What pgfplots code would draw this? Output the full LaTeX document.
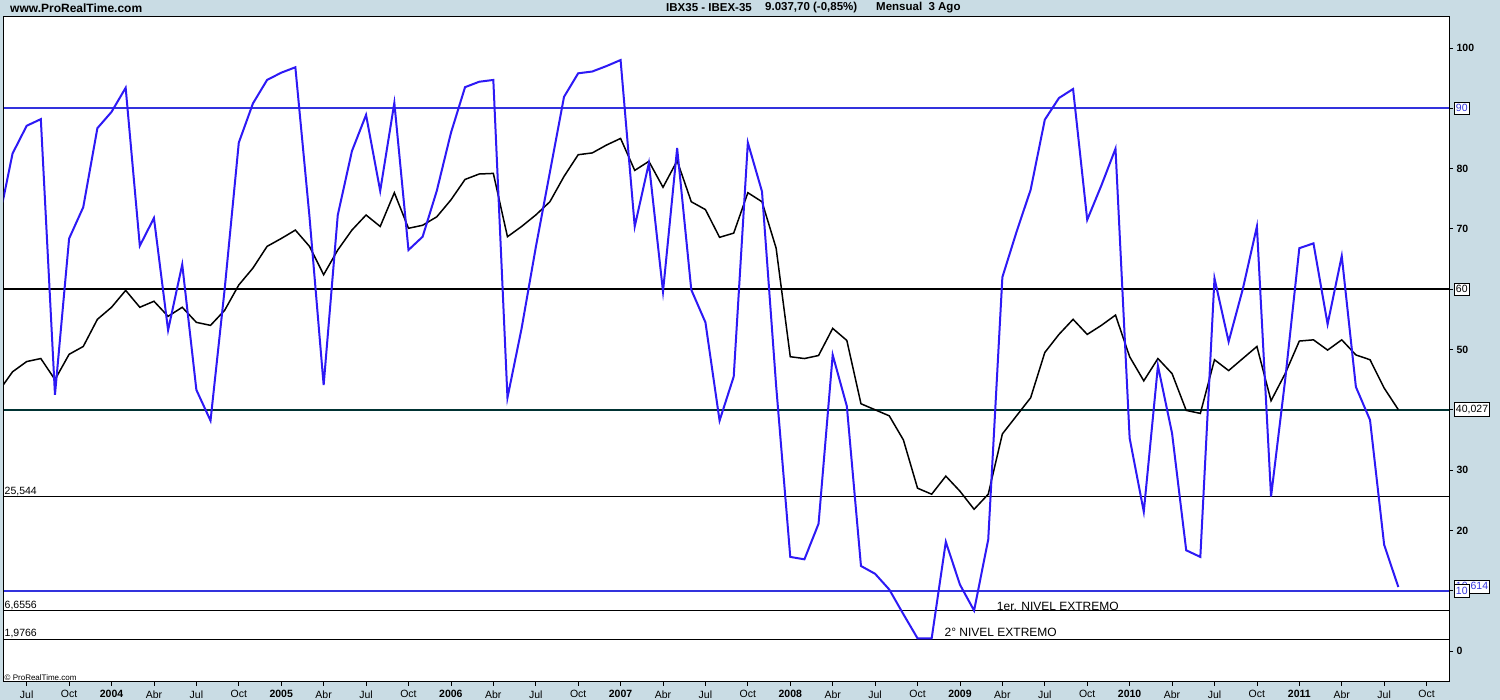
\documentclass[border=0pt]{standalone}
\usepackage{fontspec}
\setmainfont{Liberation Sans}
\usepackage{pgfplots}
\usepackage{pgfplotstable}
\pgfplotsset{compat=1.18}
\definecolor{bgc}{RGB}{201,220,228}
\definecolor{ser}{RGB}{45,25,245}
\definecolor{hl}{RGB}{51,51,221}
\definecolor{tealc}{RGB}{0,51,51}

\pgfplotstableread{
m v
-8 71
-7 82.5
-6 87.1
-5 88.2
-4 42.5
-3 68.4
-2 73.6
-1 86.7
0 89.4
1 93.4
2 67.2
3 71.8
4 53.2
5 64.1
6 43.3
7 38.2
8 60
9 84.3
10 90.8
11 94.7
12 95.9
13 96.8
14 72
15 44.1
16 72.3
17 82.9
18 88.9
19 76.3
20 90.9
21 66.5
22 68.7
23 76.3
24 85.9
25 93.5
26 94.4
27 94.7
28 42
29 53.5
30 66.9
31 79.4
32 91.9
33 95.8
34 96.1
35 97.0
36 98.0
37 70.4
38 80.9
39 59.6
40 83.4
41 59.9
42 54.5
43 38.2
44 45.5
45 84.3
46 76.2
47 44
48 15.6
49 15.2
50 21.1
51 49.1
52 40.6
53 14.1
54 12.8
55 10.2
56 6.1
57 2.1
58 2.1
59 18.1
60 11
61 6.7
62 18.5
63 62.0
64 69.5
65 76.5
66 88.1
67 91.7
68 93.2
69 71.5
70 77.2
71 83.3
72 35.3
73 23.1
74 47.3
75 36.1
76 16.7
77 15.6
78 61.8
79 51.3
80 60
81 70.4
82 25.6
83 45
84 66.8
85 67.6
86 54.2
87 65.5
88 43.8
89 38.3
90 17.6
91 10.614
}\bluedata

\pgfplotstableread{
m v
-8 43
-7 46.3
-6 48
-5 48.5
-4 45
-3 49.2
-2 50.5
-1 55
0 57
1 59.8
2 57
3 58
4 55.5
5 57
6 54.5
7 54
8 56.5
9 60.7
10 63.5
11 67.1
12 68.4
13 69.8
14 67.1
15 62.4
16 66.5
17 69.8
18 72.3
19 70.4
20 76.0
21 70.1
22 70.6
23 72.0
24 74.8
25 78.2
26 79.1
27 79.2
28 68.7
29 70.4
30 72.3
31 74.5
32 78.7
33 82.3
34 82.6
35 83.9
36 85.0
37 79.7
38 81.2
39 76.9
40 81.3
41 74.5
42 73.2
43 68.6
44 69.3
45 76.0
46 74.5
47 66.8
48 48.8
49 48.5
50 49
51 53.5
52 51.5
53 41
54 40
55 39
56 35
57 27
58 26
59 29
60 26.5
61 23.5
62 26
63 36
64 39
65 42
66 49.5
67 52.5
68 55
69 52.5
70 54
71 55.7
72 48.8
73 44.8
74 48.5
75 46.0
76 39.9
77 39.4
78 48.3
79 46.5
80 48.5
81 50.5
82 41.5
83 46.0
84 51.4
85 51.6
86 49.9
87 51.6
88 49.1
89 48.3
90 43.6
91 40.027
}\blackdata

\begin{document}
\begin{tikzpicture}[x=1pt,y=1pt]
\fill[bgc] (0,0) rectangle (1500,700);
\begin{axis}[
  at={(3.5pt,18pt)}, anchor=south west,
  width=1445.5pt, height=665pt, scale only axis,
  xmin=-7.64, xmax=94.59, ymin=-5.14, ymax=105.14,
  axis background/.style={fill=white},
  axis line style={black, line width=1pt},
  xtick={-6,-3,...,93},
  xticklabels={Jul,Oct,\textbf{2004},Abr,Jul,Oct,\textbf{2005},Abr,Jul,Oct,\textbf{2006},Abr,Jul,Oct,\textbf{2007},Abr,Jul,Oct,\textbf{2008},Abr,Jul,Oct,\textbf{2009},Abr,Jul,Oct,\textbf{2010},Abr,Jul,Oct,\textbf{2011},Abr,Jul,Oct},
  xtick pos=bottom,
  ytick={0,20,30,50,70,80,100},
  yticklabels={0,20,30,50,70,80,100},
  extra y ticks={10,40.027,60,90},
  extra y tick labels={},
  ytick pos=right, yticklabel pos=right,
  tick align=outside, major tick length=4pt,
  tick style={black, line width=0.8pt},
  xticklabel style={font=\fontsize{10.5}{12}\selectfont, yshift=-1pt},
  yticklabel style={font=\bfseries\fontsize{10.5}{12}\selectfont},
  /pgf/number format/assume math mode=true,
]
\addplot[hl, line width=2pt] coordinates {(-7.64,90) (94.59,90)};
\addplot[black, line width=2pt] coordinates {(-7.64,60) (94.59,60)};
\addplot[tealc, line width=2pt] coordinates {(-7.64,40.027) (94.59,40.027)};
\addplot[black, line width=1pt] coordinates {(-7.64,25.544) (94.59,25.544)};
\addplot[hl, line width=2pt] coordinates {(-7.64,10) (94.59,10)};
\addplot[black, line width=1pt] coordinates {(-7.64,6.6556) (94.59,6.6556)};
\addplot[black, line width=1pt] coordinates {(-7.64,1.9766) (94.59,1.9766)};
\addplot[black, line width=1.5pt] table[x=m,y=v] {\blackdata};
\addplot[ser, line width=2pt] table[x=m,y=v] {\bluedata};
\coordinate (y90) at (axis cs:94.59,90);
\coordinate (y60) at (axis cs:94.59,60);
\coordinate (y40) at (axis cs:94.59,40.027);
\coordinate (y10) at (axis cs:94.59,10);
\coordinate (y10b) at (axis cs:94.59,10.614);
\node[anchor=south west, inner sep=1pt, font=\fontsize{10.5}{12}\selectfont] at (axis cs:-7.64,25.544) {25,544};
\node[anchor=south west, inner sep=1pt, font=\fontsize{10.5}{12}\selectfont] at (axis cs:-7.64,6.6556) {6,6556};
\node[anchor=south west, inner sep=1pt, font=\fontsize{10.5}{12}\selectfont] at (axis cs:-7.64,1.9766) {1,9766};
\node[anchor=west, inner sep=0pt, font=\fontsize{12}{14}\selectfont] at (axis cs:62.6,7.4) {1er. NIVEL EXTREMO};
\node[anchor=west, inner sep=0pt, font=\fontsize{12}{14}\selectfont] at (axis cs:58.9,3.1) {2° NIVEL EXTREMO};
\node[anchor=south west, inner sep=1pt, font=\fontsize{8}{9}\selectfont] at (rel axis cs:0,0) {© ProRealTime.com};
\end{axis}
\begin{scope}[every node/.style={draw=black, fill=white, line width=0.8pt, anchor=west, inner xsep=1.5pt, inner ysep=2.5pt, font=\fontsize{10.5}{12}\selectfont}]
\node[text=hl] at ([xshift=5pt]y90) {90};
\node[text=black] at ([xshift=5pt]y60) {60};
\node[text=black] at ([xshift=5pt]y40) {40,027};
\node[text=hl] at ([xshift=5pt]y10b) {10,614};
\node[text=hl] at ([xshift=5pt]y10) {10};
\end{scope}
\node[anchor=west, inner sep=0pt, font=\bfseries\fontsize{12}{14}\selectfont] at (10,692) {www.ProRealTime.com};
\node[anchor=west, inner sep=0pt, font=\bfseries\fontsize{11.5}{14}\selectfont] at (666,692) {IBX35 - IBEX-35};
\node[anchor=west, inner sep=0pt, font=\bfseries\fontsize{11.5}{14}\selectfont] at (765,692) {9.037,70 (-0,85\%)};
\node[anchor=west, inner sep=0pt, font=\bfseries\fontsize{11.5}{14}\selectfont] at (876,692) {Mensual\ \ 3 Ago};
\pgfresetboundingbox
\useasboundingbox (0,0) rectangle (1500,700);
\end{tikzpicture}
\end{document}
